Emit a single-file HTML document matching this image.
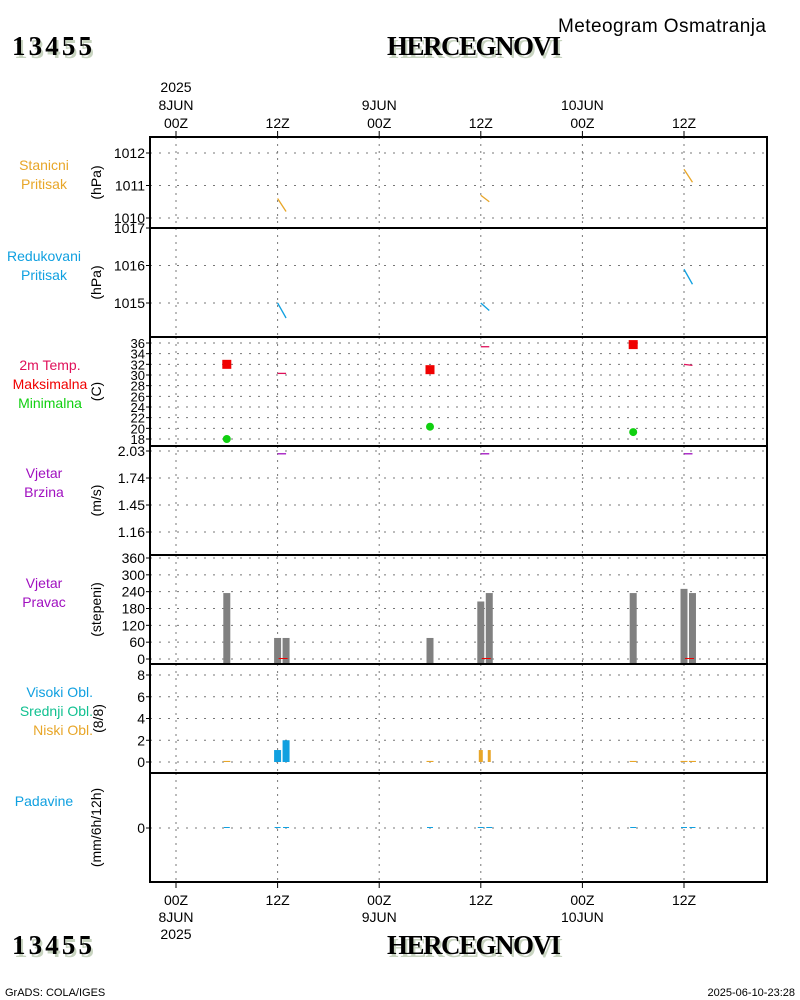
<!DOCTYPE html>
<html><head><meta charset="utf-8">
<style>
html,body{margin:0;padding:0;background:#fff;}
svg{display:block;font-family:"Liberation Sans",sans-serif;}
.t{font-family:"Liberation Serif",serif;font-weight:bold;}
</style></head>
<body>
<svg id="chart" width="800" height="1000" viewBox="0 0 800 1000" xmlns="http://www.w3.org/2000/svg">
<g>
<text x="558" y="32" font-size="19" textLength="208">Meteogram Osmatranja</text>
<text class="t" x="14" y="58" font-size="27" fill="#c8d4c0" textLength="80">13455</text>
<text class="t" x="12" y="55" font-size="27" textLength="80">13455</text>
<text class="t" x="389" y="58" font-size="27" fill="#c8d4c0" textLength="174">HERCEGNOVI</text>
<text class="t" x="387" y="55" font-size="27" textLength="174">HERCEGNOVI</text>
</g>
<g id="grid"></g>
<g id="marks"></g>
<g id="frames"></g>
<g id="labels" font-size="14"></g>
<g>
<text class="t" x="14" y="957" font-size="27" fill="#c8d4c0" textLength="80">13455</text>
<text class="t" x="12" y="954" font-size="27" textLength="80">13455</text>
<text class="t" x="389" y="957" font-size="27" fill="#c8d4c0" textLength="174">HERCEGNOVI</text>
<text class="t" x="387" y="954" font-size="27" textLength="174">HERCEGNOVI</text>
<text x="5" y="996" font-size="11">GrADS: COLA/IGES</text>
<text x="795" y="996" font-size="11" text-anchor="end">2025-06-10-23:28</text>
</g>
</svg>
<script>
// ---- data ----
const timeTicks = [0, 12, 24, 36, 48, 60];
const timeLabels = ["00Z", "12Z", "00Z", "12Z", "00Z", "12Z"];
const dayLabels = ["8JUN", "", "9JUN", "", "10JUN", ""];
const obsHours = [12, 13, 36, 37, 60, 61];
const stationPressure = [1010.6, 1010.2, 1010.7, 1010.5, 1011.5, 1011.1];
const reducedPressure = [1015.0, 1014.6, 1015.0, 1014.8, 1015.9, 1015.5];
const temp2m = [30.3, 30.3, 35.3, 35.3, 32.0, 31.8];
const extremeHours = [6, 30, 54];
const tempMax = [32.0, 31.0, 35.7];
const tempMin = [18.0, 20.3, 19.3];
const windSpeed = [2.0, 2.0, 2.0, 2.0, 2.0, 2.0];
const dirHours = [6, 12, 13, 30, 36, 37, 54, 60, 61];
const windDir = [235, 75, 75, 75, 205, 235, 235, 250, 235];
const cloudHours = [6, 12, 13, 30, 36, 37, 54, 60, 61];
const cloudHigh = [0, 1.1, 2.0, 0, 0, 0, 0, 0, 0];
const cloudLow = [0.1, 0, 0, 0.1, 1.1, 1.1, 0.1, 0.1, 0.1];
const precip = [0, 0, 0, 0, 0, 0, 0, 0, 0];
const pTicks1 = [1010, 1011, 1012];
const pTicks2 = [1015, 1016, 1017];
const tTicks = [18,20,22,24,26,28,30,32,34,36];
const wsTicks = [1.16, 1.45, 1.74, 2.03];
const wdTicks = [0,60,120,180,240,300,360];
const clTicks = [0,2,4,6,8];
const prTicks = [0];

const NS = "http://www.w3.org/2000/svg";
const X0 = 150, X1 = 767;
function xs(h){ return 176 + h * (101.6/12); }
function lin(v0, y0, v1, y1){ return v => y0 + (v - v0) * (y1 - y0) / (v1 - v0); }
function el(tag, attrs, parent){ const e = document.createElementNS(NS, tag); for (const k in attrs) e.setAttribute(k, attrs[k]); parent.appendChild(e); return e; }
const G = document.getElementById('grid'), M = document.getElementById('marks'), F = document.getElementById('frames'), L = document.getElementById('labels');

const panels = [
 {top:137, bot:228, ticks:pTicks1, y:lin(1012,153,1010,218), fmt:v=>v, name:'station-pressure', unit:'(hPa)', ly:170, lx:44, anchor:'middle', lab:[['Stanicni','#e8a628'],['Pritisak','#e8a628']]},
 {top:228, bot:337, ticks:pTicks2, y:lin(1017,228,1015,303), fmt:v=>v, name:'reduced-pressure', unit:'(hPa)', ly:261, lx:44, anchor:'middle', lab:[['Redukovani','#10a0e0'],['Pritisak','#10a0e0']]},
 {top:337, bot:446, ticks:tTicks, y:lin(36,343,18,439), fmt:v=>v, name:'temperature', unit:'(C)', ly:370, lx:50, anchor:'middle', lab:[['2m Temp.','#e0105a'],['Maksimalna','#f00000'],['Minimalna','#10d010']]},
 {top:446, bot:555, ticks:wsTicks, y:lin(2.03,451,1.16,532), fmt:v=>v.toFixed(2), name:'wind-speed', unit:'(m/s)', ly:478, lx:44, anchor:'middle', lab:[['Vjetar','#a010c0'],['Brzina','#a010c0']]},
 {top:555, bot:664, ticks:wdTicks, y:lin(360,558,0,659), fmt:v=>v, name:'wind-direction', unit:'(stepeni)', ly:588, lx:44, anchor:'middle', lab:[['Vjetar','#a010c0'],['Pravac','#a010c0']]},
 {top:664, bot:773, ticks:clTicks, y:lin(8,675,0,762), fmt:v=>v, name:'cloud-cover', unit:'(8/8)', ly:697, lx:93, anchor:'end', lab:[['Visoki Obl.','#10a0e0'],['Srednji Obl.','#10c090'],['Niski Obl.','#e8a628']]},
 {top:773, bot:882, ticks:prTicks, y:lin(0,828,1,818), fmt:v=>v, name:'precipitation', unit:'(mm/6h/12h)', ly:806, lx:44, anchor:'middle', lab:[['Padavine','#10a0e0']]}
];

panels.forEach((p, i) => {
  const g = el('g', {}, G);
  
  
  timeTicks.forEach(h => { el('line', {x1:xs(h), x2:xs(h), y1:p.top, y2:p.bot, stroke:'#777', 'stroke-dasharray':'2,5'}, g); });
  p.ticks.forEach(v => {
    const y = p.y(v);
    el('line', {x1:X0, x2:X1, y1:y, y2:y, stroke:'#777', 'stroke-dasharray':'2,7'}, g);
    el('line', {x1:X0-4, x2:X0, y1:y, y2:y, stroke:'#000'}, g);
    const t = el('text', {x:X0-5, y:y+5, 'text-anchor':'end', 'font-size': p.ticks.length > 7 ? 13 : 14}, L);
    t.textContent = p.fmt(v);
    
    
  });
  const cy = (p.top + p.bot) / 2;
  const u = el('text', {x:0, y:0, 'text-anchor':'middle', transform:`translate(${i===5?103:101},${cy}) rotate(-90)`, 'font-size':14}, L);
  u.textContent = p.unit;
  
  
  p.lab.forEach((lb, k) => {
    const t = el('text', {x:p.lx, y:p.ly + k*19, 'text-anchor':p.anchor, fill:lb[1], 'font-size':14}, L);
    t.textContent = lb[0];
    
    
  });
  const fr = el('rect', {x:X0, y:p.top, width:X1-X0, height:p.bot-p.top, fill:'none', stroke:'#000', 'stroke-width':2}, F);
  
  
});

// time axis labels + ticks
timeTicks.forEach((h, k) => {
  const x = xs(h);
  el('line', {x1:x, x2:x, y1:131, y2:137, stroke:'#000'}, F);
  el('line', {x1:x, x2:x, y1:882, y2:888, stroke:'#000'}, F);
  const a = el('text', {x:x, y:128, 'text-anchor':'middle'}, L); a.textContent = timeLabels[k];
   
  const b = el('text', {x:x, y:905, 'text-anchor':'middle'}, L); b.textContent = timeLabels[k];
   
  if (dayLabels[k]) {
    const c = el('text', {x:x, y:110, 'text-anchor':'middle'}, L); c.textContent = dayLabels[k];
     
    const d = el('text', {x:x, y:922, 'text-anchor':'middle'}, L); d.textContent = dayLabels[k];
     
  }
});
const yr1 = el('text', {x:xs(0), y:92, 'text-anchor':'middle'}, L); yr1.textContent = '2025';
 
const yr2 = el('text', {x:xs(0), y:939, 'text-anchor':'middle'}, L); yr2.textContent = '2025';
 

// series segments (pairs)
function segs(vals, p, color, name) {
  for (let i = 0; i < obsHours.length; i += 2) {
    const l = el('line', {x1:xs(obsHours[i]), y1:p.y(vals[i]), x2:xs(obsHours[i+1]), y2:p.y(vals[i+1]), stroke:color, 'stroke-width':1.3}, M);
    
    
  }
}
segs(stationPressure, panels[0], '#e8a628', 'station-pressure-line');
segs(reducedPressure, panels[1], '#10a0e0', 'reduced-pressure-line');
segs(temp2m, panels[2], '#e0105a', 'temperature-line');
segs(windSpeed, panels[3], '#a010c0', 'wind-speed-line');

extremeHours.forEach((h, i) => {
  const s = el('rect', {x:xs(h)-4.5, y:panels[2].y(tempMax[i])-4.5, width:9, height:9, fill:'#f00000'}, M);
  
  
  const c = el('circle', {cx:xs(h), cy:panels[2].y(tempMin[i]), r:4, fill:'#10d010'}, M);
  
  
});

dirHours.forEach((h, i) => {
  const p = panels[4], y = p.y(windDir[i]);
  const b = el('rect', {x:xs(h)-3.5, y:y, width:7, height:664-y, fill:'#808080'}, M);
  
  
});
[12, 36, 60].forEach(h => {
  el('line', {x1:xs(h)+1, x2:xs(h)+10, y1:658.5, y2:658.5, stroke:'#f00000', 'stroke-width':1}, M);
});

cloudHours.forEach((h, i) => {
  const p = panels[5];
  if (cloudHigh[i] > 0) {
    const y = p.y(cloudHigh[i]);
    const b = el('rect', {x:xs(h)-3.5, y:y, width:7, height:p.y(0)-y, fill:'#10a0e0'}, M);
    
    
  }
  if (cloudLow[i] > 0) {
    const y = p.y(cloudLow[i]);
    const w = cloudLow[i] > 0.5 ? (i % 2 ? 3 : 4) : 7;
    const b = el('rect', {x:xs(h)-w/2, y:y, width:w, height:Math.max(1, p.y(0)-y), fill:'#e8a628'}, M);
    
    
  }
});

cloudHours.forEach((h, i) => {
  const p = panels[6], y = p.y(precip[i]);
  const b = el('line', {x1:xs(h)-3, x2:xs(h)+3, y1:y-0.5, y2:y-0.5, stroke:'#10a0e0', 'stroke-width':1}, M);
  
  
});
</script>
</body></html>
